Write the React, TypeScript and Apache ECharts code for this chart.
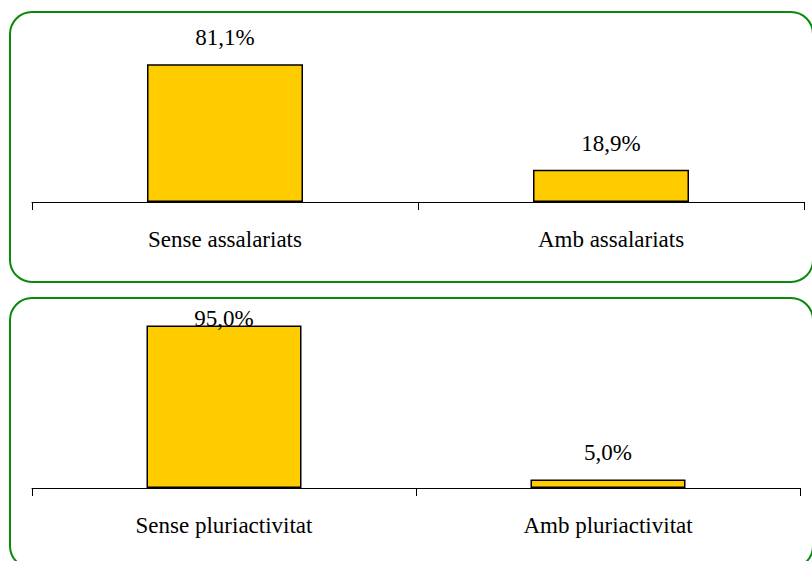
import React, { useEffect, useRef } from "react";
import * as echarts from "echarts";

const categoriesTop = ["Sense assalariats", "Amb assalariats"];
const valuesTop = [81.1, 18.9];
const categoriesBottom = ["Sense pluriactivitat", "Amb pluriactivitat"];
const valuesBottom = [95.0, 5.0];

const FONT = "Times New Roman";
const fmt = (v: number) => v.toFixed(1).replace(".", ",") + "%";

export default function App() {
  const ref = useRef<HTMLDivElement>(null);
  useEffect(() => {
    if (!ref.current) return;
    const chart = echarts.init(ref.current, null, { renderer: "svg" });
    const barStyle = { color: "#FFCC00", borderColor: "#000", borderWidth: 1.5 };
    const labelBase = {
      show: true,
      position: "top",
      color: "#000",
      fontFamily: FONT,
      fontSize: 23,
      lineHeight: 23,
      distance: 15,
      formatter: (p: any) => fmt(p.value),
    };
    const xAxisBase = {
      type: "category",
      axisLine: { lineStyle: { color: "#000", width: 1 } },
      axisTick: { show: true, length: 8, lineStyle: { color: "#000" } },
      axisLabel: { color: "#000", fontFamily: FONT, fontSize: 23, margin: 26 },
    };
    const yAxisBase = {
      type: "value",
      min: 0,
      max: 100,
      show: false,
      splitLine: { show: false },
    };
    chart.setOption({
      animation: false,
      backgroundColor: "#fff",
      textStyle: { fontFamily: FONT },
      graphic: [
        {
          type: "rect",
          shape: { x: 10, y: 12, width: 803, height: 270, r: 22 },
          style: { fill: "none", stroke: "#0a8a0a", lineWidth: 2 },
          z: -1,
        },
        {
          type: "rect",
          shape: { x: 10, y: 298, width: 803, height: 270, r: 22 },
          style: { fill: "none", stroke: "#0a8a0a", lineWidth: 2 },
          z: -1,
        },
      ],
      grid: [
        { left: 32, right: 8, top: 32, height: 170 },
        { left: 32, right: 12, top: 317, height: 171 },
      ],
      xAxis: [
        { ...xAxisBase, gridIndex: 0, data: categoriesTop },
        { ...xAxisBase, gridIndex: 1, data: categoriesBottom },
      ],
      yAxis: [
        { ...yAxisBase, gridIndex: 0 },
        { ...yAxisBase, gridIndex: 1 },
      ],
      series: [
        {
          type: "bar",
          xAxisIndex: 0,
          yAxisIndex: 0,
          barWidth: 156,
          data: valuesTop,
          itemStyle: barStyle,
          label: labelBase,
        },
        {
          type: "bar",
          xAxisIndex: 1,
          yAxisIndex: 1,
          barWidth: 155,
          data: valuesBottom.map((v, i) =>
            i === 0 ? { value: v, label: { distance: -4 } } : v
          ),
          itemStyle: barStyle,
          label: labelBase,
        },
      ],
    });
    return () => chart.dispose();
  }, []);
  return (
    <div
      ref={ref}
      style={{ position: "fixed", left: 0, top: 0, width: 812, height: 561 }}
    />
  );
}
